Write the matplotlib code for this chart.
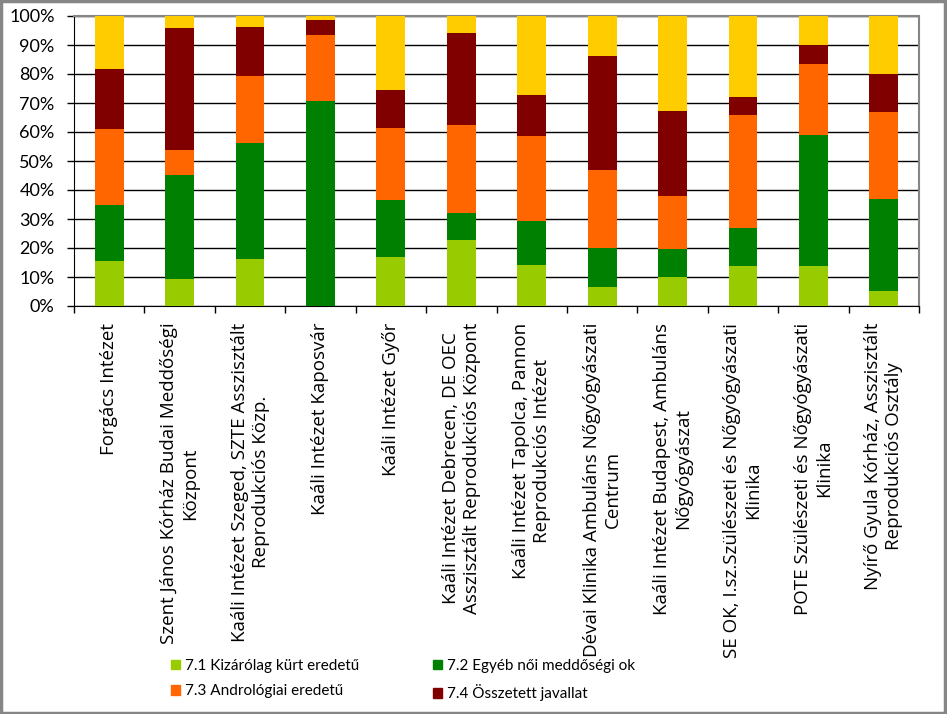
import numpy as np
import matplotlib.pyplot as plt
from matplotlib.patches import Patch, Rectangle

plt.rcParams['font.family'] = ['Lato', 'DejaVu Sans']

# category labels (x axis)
categories = [
    "Forgács Intézet",
    "Szent János Kórház Budai Meddőségi\nKözpont",
    "Kaáli Intézet Szeged, SZTE Asszisztált\nReprodukciós Közp.",
    "Kaáli Intézet Kaposvár",
    "Kaáli Intézet Győr",
    "Kaáli Intézet Debrecen, DE OEC\nAsszisztált Reprodukciós Központ",
    "Kaáli Intézet Tapolca, Pannon\nReprodukciós Intézet",
    "Dévai Klinika Ambuláns Nőgyógyászati\nCentrum",
    "Kaáli Intézet Budapest, Ambuláns\nNőgyógyászat",
    "SE OK, I.sz.Szülészeti és Nőgyógyászati\nKlinika",
    "POTE Szülészeti és Nőgyógyászati\nKlinika",
    "Nyírő Gyula Kórház, Asszisztált\nReprodukciós Osztály",
]

# shares in percent
kurt = [15.4, 9.2, 16.1, 0.0, 16.8, 22.7, 14.1, 6.5, 9.9, 13.7, 13.7, 5.1]
egyeb = [19.4, 35.9, 40.1, 70.7, 19.7, 9.3, 15.2, 13.4, 9.7, 13.1, 45.3, 31.7]
andro = [26.2, 8.6, 23.1, 22.8, 24.9, 30.4, 29.3, 26.9, 18.3, 39.1, 24.4, 30.1]
osszetett = [20.7, 42.2, 16.9, 5.2, 13.1, 31.7, 14.1, 39.4, 29.3, 6.2, 6.6, 13.1]
egyeb2 = [18.3, 4.1, 3.8, 1.3, 25.5, 5.9, 27.3, 13.8, 32.8, 27.9, 10.0, 20.0]

series = [kurt, egyeb, andro, osszetett, egyeb2]
names = ["7.1 Kizárólag kürt eredetű", "7.2 Egyéb női meddőségi ok",
         "7.3 Andrológiai eredetű", "7.4 Összetett javallat", ""]
colors = ["#99CC00", "#008000", "#FF6600", "#800000", "#FFCC00"]

W, H = 947, 714
fig = plt.figure(figsize=(W / 100, H / 100), dpi=100)
ax = fig.add_axes([74 / W, (H - 306) / H, (919 - 74) / W, (306 - 16) / H])

x = np.arange(len(categories))
bottom = np.zeros(len(categories))
for vals, c in zip(series, colors):
    ax.bar(x, vals, 0.41, bottom=bottom, color=c, zorder=3)
    bottom += np.array(vals)

ax.set_xlim(-0.5, len(categories) - 0.5)
ax.set_ylim(0, 100)
ax.set_yticks(np.arange(0, 101, 10))
ax.set_yticklabels([f"{v}%" for v in range(0, 101, 10)], fontsize=13)
ax.yaxis.grid(True, color='black', linewidth=1, zorder=0)
ax.set_xticks(x)
ax.set_xticklabels(categories, rotation=90, fontsize=13.5, va='top', ha='center',
                   multialignment='center', linespacing=1.22,
                   family=['Open Sans', 'DejaVu Sans'])
ax.set_xticks(np.arange(-0.5, len(categories)), minor=True)
ax.tick_params(axis='x', which='major', length=0, pad=12)
ax.tick_params(axis='x', which='minor', length=5, width=1, direction='out')
ax.tick_params(axis='y', length=5, width=1, direction='out', pad=9)

for s in ['top', 'right']:
    ax.spines[s].set_color('#868686')
    ax.spines[s].set_linewidth(1.5)
ax.spines['left'].set_color('black')
ax.spines['bottom'].set_color('black')

handles = [Patch(color=c, label=n) for c, n in zip(colors[:4], names[:4])]
order = [0, 2, 1, 3]
fig.legend([handles[i] for i in order], [names[i] for i in order],
           loc='center', bbox_to_anchor=(403 / W, 1 - 680 / H), ncol=2,
           frameon=False, fontsize=11, handlelength=0.6, handleheight=0.6,
           handletextpad=0.35, columnspacing=4.8, labelspacing=0.75)

fig.patches.append(Rectangle((0.001, 0.002), 0.997, 0.996, transform=fig.transFigure,
                             fill=False, edgecolor='#868686', linewidth=2.5))

fig.savefig("out.png", dpi=100)
